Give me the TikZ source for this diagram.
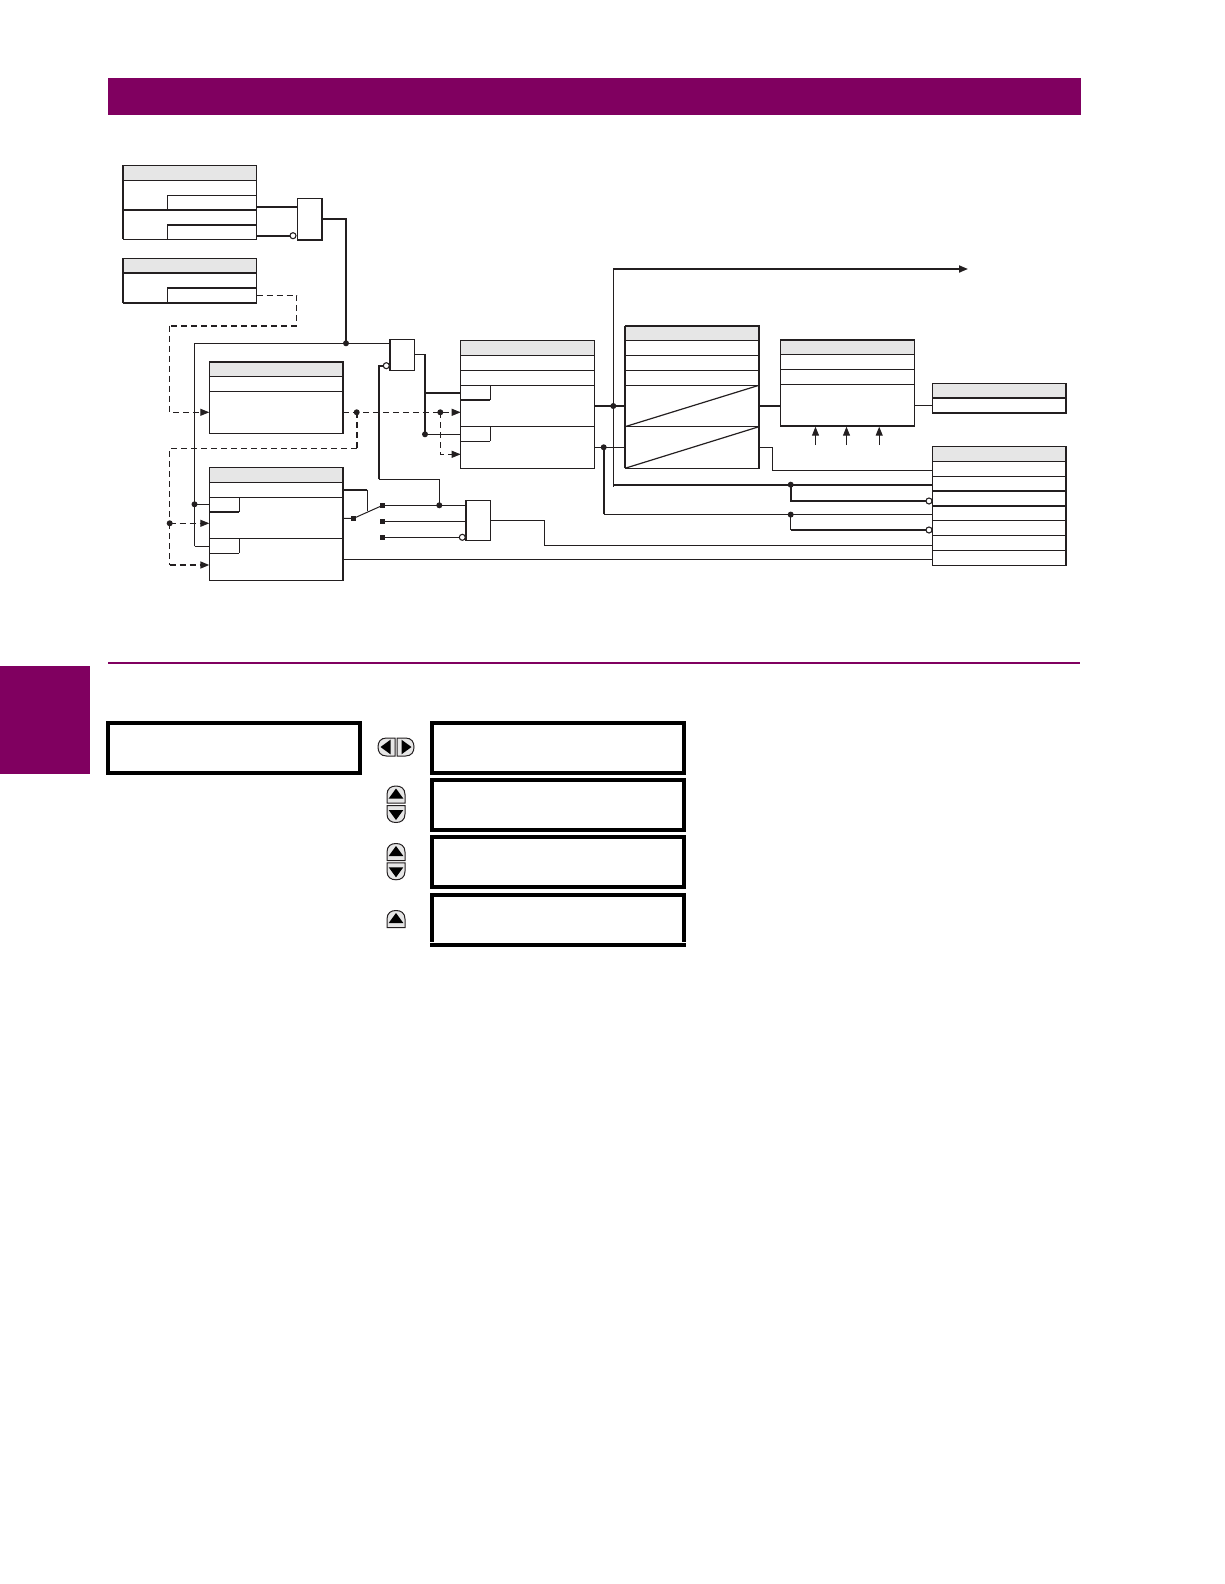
\documentclass[tikz,border=0pt]{standalone}
\usetikzlibrary{arrows.meta}
\definecolor{maroon}{HTML}{800060}
\definecolor{hdrgray}{HTML}{E6E6E6}
\definecolor{ink}{HTML}{231F20}
\tikzset{
  x=1pt,y=-1pt,
  thin line/.style={line width=1pt,draw=ink},
  thick line/.style={line width=1.8pt,draw=ink},
  thin dash/.style={thin line,dash pattern=on 6pt off 4pt},
  thick dash/.style={thick line,line width=1.6pt,dash pattern=on 6pt off 4pt},
  tip/.style={-{Triangle[length=9pt,width=7pt]}},
  boxn/.style={draw=ink,line width=1pt,inner sep=0pt,outer sep=0pt,rectangle},
  gate/.style={boxn,fill=white},
  dot/.style={circle,fill=ink,inner sep=0pt,minimum size=6pt,outer sep=0pt},
  sq/.style={rectangle,fill=ink,inner sep=0pt,minimum size=5pt,outer sep=0pt},
  inv/.style={circle,draw=ink,fill=white,line width=1.1pt,inner sep=0pt,minimum size=6pt,outer sep=0pt},
  lcd/.style={draw=black,line width=4pt,inner sep=0pt,outer sep=0pt,rectangle},
  btn/.style={fill=hdrgray,draw=ink,line width=1pt},
}
\newcommand\mkbox[5]{\node[boxn,minimum width={(#4-#2)*1pt},minimum height={(#5-#3)*1pt}] (#1) at ({(#2+#4)/2},{(#3+#5)/2}) {};}
\newcommand\mkgate[5]{\node[gate,minimum width={(#4-#2)*1pt},minimum height={(#5-#3)*1pt}] (#1) at ({(#2+#4)/2},{(#3+#5)/2}) {};}
\newcommand\mklcd[5]{\node[lcd,minimum width={(#4-#2)*1pt},minimum height={(#5-#3)*1pt}] (#1) at ({(#2+#4)/2},{(#3+#5)/2}) {};}
\newcommand\hdr[4]{\fill[hdrgray] (#1,#2) rectangle (#3,#4);}
\newcommand\rowline[4][thin line]{\draw[#1] (#2,#4) -- (#3,#4);}
\newcommand\button[3]{\begin{scope}[shift={(#1,#2)},rotate=#3]
  \draw[btn] (-9,8.5) -- (-9,0) .. controls (-9,-6) and (-5,-8.5) .. (0,-8.5) .. controls (5,-8.5) and (9,-6) .. (9,0) -- (9,8.5) -- cycle;
  \fill[black] (0,-6) -- (7.3,4) -- (-7.3,4) -- cycle;
\end{scope}}
\begin{document}
\begin{tikzpicture}
\useasboundingbox (0,0) rectangle (1224,1584);
% page furniture
\fill[maroon] (108,78) rectangle (1081,114.8);
\fill[maroon] (0,666) rectangle (90,774);
\draw[maroon,line width=1.6pt] (108,662.8) -- (1080,662.8);

% box A
\hdr{123}{165.3}{256.7}{180.3}
\mkbox{boxA}{123}{165.3}{256.7}{239.3}
\rowline{123}{256.7}{180.3}
\rowline[thick line]{123}{256.7}{210}
\rowline{167.3}{256.7}{195}
\rowline[thick line]{167.3}{256.7}{225}
\draw[thin line] (167.3,195) -- (167.3,210) (167.3,225) -- (167.3,239.3);
\draw[thick line] (123,165.3) -- (123,239.3);
% box B
\hdr{123}{258.3}{256.7}{273}
\mkbox{boxB}{123}{258.3}{256.7}{302.7}
\rowline[thick line]{123}{256.7}{273}
\rowline[thick line]{167.3}{256.7}{287.7}
\rowline[thick line]{123}{256.7}{302.7}
\draw[thin line] (167.3,287.7) -- (167.3,302.7);
\draw[thick line] (123,258.3) -- (123,302.7);
% box C
\hdr{209.3}{361.7}{343.3}{376.7}
\mkbox{boxC}{209.3}{361.7}{343.3}{433.3}
\rowline[thick line]{209.3}{343.3}{361.7}
\rowline{209.3}{343.3}{376.7}
\rowline{209.3}{343.3}{391.3}
\draw[thick line] (343.3,361.7) -- (343.3,433.3);
% box D
\hdr{209.3}{467.3}{343.3}{482.3}
\mkbox{boxD}{209.3}{467.3}{343.3}{580.3}
\rowline{209.3}{343.3}{482.3}
\rowline{209.3}{343.3}{497.3}
\rowline{209.3}{343.3}{538.3}
\rowline[thick line]{209.3}{239.3}{512}
\rowline{209.3}{239.3}{553.3}
\draw[thin line] (239.3,497.3) -- (239.3,512) (239.3,538.3) -- (239.3,553.3);
\draw[thick line] (343.3,467.3) -- (343.3,580.3);
% box E
\hdr{460.7}{340.7}{594.4}{355.3}
\mkbox{boxE}{460.7}{340.7}{594.4}{468.3}
\rowline{460.7}{594.4}{355.3}
\rowline{460.7}{594.4}{370.3}
\rowline{460.7}{594.4}{385.3}
\rowline{460.7}{594.4}{426.3}
\rowline[thick line]{460.7}{490.3}{400}
\rowline{460.7}{490.3}{441.3}
\draw[thin line] (490.3,385.3) -- (490.3,400) (490.3,426.3) -- (490.3,441.3);
\draw[thick line] (594.4,340.7) -- (594.4,468.3);
% box F
\hdr{625}{325.7}{759}{340.7}
\mkbox{boxF}{625}{325.7}{759}{468.3}
\rowline[thick line]{625}{759}{325.7}
\rowline{625}{759}{340.7}
\rowline{625}{759}{355.3}
\rowline{625}{759}{370.3}
\rowline{625}{759}{385.3}
\rowline[line width=1.4pt,draw=ink]{625}{759}{426.7}
\draw[line width=1.2pt,draw=ink] (625,426.7) -- (759,385.3) (625,468.3) -- (759,426.7);
\draw[line width=1.4pt,draw=ink] (625,325.7) -- (625,468.3) (759,325.7) -- (759,468.3);
% box G
\hdr{780.4}{339.7}{914.3}{354.3}
\mkbox{boxG}{780.4}{339.7}{914.3}{426}
\rowline[thick line]{780.4}{914.3}{339.7}
\rowline{780.4}{914.3}{354.3}
\rowline{780.4}{914.3}{369.3}
\rowline{780.4}{914.3}{384.3}
\rowline[thick line]{780.4}{914.3}{426}
% box H
\hdr{932.2}{383.3}{1066.2}{397.7}
\mkbox{boxH}{932.2}{383.3}{1066.2}{413.3}
\rowline[thick line]{932.2}{1066.2}{397.7}
\rowline[thick line]{932.2}{1066.2}{413.3}
\draw[thick line] (1066.2,383.3) -- (1066.2,413.3);
% box I
\hdr{932.2}{446.3}{1066.2}{461.3}
\mkbox{boxI}{932.2}{446.3}{1066.2}{565.3}
\rowline{932.2}{1066.2}{461.3}
\rowline{932.2}{1066.2}{476.3}
\rowline[thick line]{932.2}{1066.2}{491}
\rowline[thick line]{932.2}{1066.2}{506}
\rowline{932.2}{1066.2}{520.7}
\rowline{932.2}{1066.2}{535.3}
\rowline{932.2}{1066.2}{550.3}
\draw[thick line] (1066.2,446.3) -- (1066.2,565.3);

% junctions and ports
\coordinate (aOutA) at (boxA.east |- 0,206.7);
\coordinate (aOutB) at (boxA.east |- 0,235.7);
\node[dot] (jTop) at (346,343.3) {};
\coordinate (cornerTL) at (194.5,343.3);
\node[dot] (jLeft) at (194.5,504.3) {};
\coordinate (leftEnd) at (194.5,546.3);
\node[dot] (jDashA) at (356.7,412.3) {};
\node[dot] (jDashB) at (440.3,412.3) {};
\node[dot] (jDashL) at (169.7,523.3) {};
\node[dot] (jEn) at (425,434.3) {};
\node[dot] (jSw) at (439.3,505.3) {};
\node[dot] (jMainA) at (613.3,406) {};
\node[dot] (jMainB) at (603.7,447.3) {};
\node[dot] (jI1) at (790.7,484.7) {};
\node[dot] (jI2) at (790.7,514.6) {};
\node[sq] (swC) at (353.7,518.3) {};
\node[sq] (sw1) at (382.7,505.3) {};
\node[sq] (sw2) at (382.7,521.3) {};
\node[sq] (sw3) at (382.7,537.3) {};
\coordinate (arrowEnd) at (968,269);
\coordinate (arrowStart) at (613.3,269);
\coordinate (mainEnd) at (613.3,486.7);
\coordinate (up1) at (815.5,445);
\coordinate (up2) at (846.5,445);
\coordinate (up3) at (879.2,445);

% connectors
\draw[thick line] (aOutA) -- (297.3,206.7);
\draw[thick line] (aOutB) -- (290,235.7);
\draw[thick line] (322,218.7) -- (346,218.7) -- (jTop.center);
\draw[thin line] (leftEnd) -- (jLeft.center) -- (cornerTL) -- (jTop.center) -- (389.7,343.3);
\draw[thin line] (leftEnd) -- (209.3,546.3);
\draw[thin line] (jLeft.center) -- (209.3,504.3);
% dashed
\draw[thin dash] (boxB.east |- 0,295.3) -- (296.7,295.3) -- (296.7,325.7);
\draw[thick dash] (296.7,325.7) -- (169.7,325.7);
\draw[thin dash,tip] (169.7,325.7) -- (169.7,412.3) -- (boxC.west |- 0,412.3);
\draw[thin dash,tip] (boxC.east |- 0,412.3) -- (jDashA.center) -- (jDashB.center) -- (boxE.west |- 0,412.3);
\draw[thick dash] (jDashA.center) -- (356.7,448.3);
\draw[thin dash] (356.7,448.3) -- (169.7,448.3) -- (jDashL.center);
\draw[thin dash,tip] (jDashL.center) -- (boxD.west |- 0,523.3);
\draw[thin dash] (jDashL.center) -- (169.7,565);
\draw[thick dash,tip] (169.7,565) -- (boxD.west |- 0,565);
\draw[thin dash,tip] (jDashB.center) -- (440.3,454.3) -- (boxE.west |- 0,454.3);
% second gate
\draw[thin line] (414.7,354) -- (425,354);
\draw[thick line] (425,354) -- (jEn.center);
\draw[thick line] (425,393) -- (boxE.west |- 0,393);
\draw[thin line] (jEn.center) -- (boxE.west |- 0,434.3);
\draw[thick line] (383.5,365.7) -- (378.7,365.7) -- (378.7,479.3);
\draw[thin line] (378.7,479.3) -- (439.3,479.3) -- (jSw.center);
% switch
\draw[thick line] (boxD.east |- 0,489.7) -- (367.3,489.7);
\draw[thin line] (367.3,489.7) -- (367.3,510.7);
\draw[thin line] (boxD.east |- 0,518.3) -- (swC.center) -- (sw1.center);
\draw[thin line] (sw1.center) -- (465.7,505.3);
\draw[thin line] (sw2.center) -- (465.7,521.3);
\draw[thin line] (sw3.center) -- (459.3,537.3);
% third gate to box I
\draw[thin line] (490.3,520.3) -- (544.7,520.3) -- (544.7,545.3) -- (boxI.west |- 0,545.3);
\draw[thin line] (boxD.east |- 0,559.3) -- (boxI.west |- 0,559.3);
% main busses
\draw[thick line] (boxE.east |- 0,406) -- (boxF.west |- 0,406);
\draw[thin line] (boxE.east |- 0,447.3) -- (boxF.west |- 0,447.3);
\draw[thick line,tip] (arrowStart) -- (arrowEnd);
\draw[thin line] (arrowStart) -- (mainEnd);
\draw[thick line] (mainEnd |- 0,484.7) -- (boxI.west |- 0,484.7);
\draw[thick line] (jI1.center) -- (790.7,501) -- (926,501);
\draw[thick line] (jMainB.center) -- (603.7,514.3);
\draw[thin line] (603.7,514.3) -- (boxI.west |- 0,514.3);
\draw[thin line] (jI2.center) -- (790.7,530);
\draw[thick line] (790.7,530) -- (926,530);
\draw[thick line] (boxF.east |- 0,406) -- (boxG.west |- 0,406);
\draw[thin line] (boxG.east |- 0,405.3) -- (boxH.west |- 0,405.3);
\draw[thin line] (boxF.east |- 0,447.3) -- (772.4,447.3) -- (772.4,470.3) -- (boxI.west |- 0,470.3);
\draw[thin line,tip] (up1) -- (815.5,426.7);
\draw[thin line,tip] (up2) -- (846.5,426.7);
\draw[thin line,tip] (up3) -- (879.2,426.7);

% gates (on top of wires)
\mkgate{gateA}{297.3}{198.3}{322}{240}
\draw[thick line] (322,198.3) -- (322,240) -- (297.3,240);
\mkgate{gateB}{389.7}{339.3}{414.7}{370.3}
\draw[thick line] (389.7,339.3) -- (389.7,370.3);
\mkgate{gateC}{465.7}{500.3}{490.3}{540.3}
\draw[thick line] (465.7,500.3) -- (465.7,540.3);
\node[inv] (invA) at (293,235.7) {};
\node[inv] (invB) at (386.3,365.7) {};
\node[inv] (invC) at (462.3,537.3) {};
\node[inv] (invD) at (929,501) {};
\node[inv] (invE) at (929,530) {};

% settings displays
\mklcd{lcdMain}{107.8}{722.9}{360}{773.1}
\mklcd{lcdA}{431.9}{722.9}{684.1}{773.1}
\mklcd{lcdB}{431.9}{779.9}{684.1}{830.1}
\mklcd{lcdC}{431.9}{836.9}{684.1}{887.1}
\draw[black,line width=4pt] (431.9,941.7) -- (431.9,894.9) -- (684.1,894.9) -- (684.1,941.7);
\draw[black,line width=3.7pt] (430,944.9) -- (686,944.9);
% keypad buttons
\button{386.5}{747}{90}
\button{405.5}{747}{-90}
\button{396}{794.5}{0}
\button{396}{814}{180}
\button{396}{852}{0}
\button{396}{871.3}{180}
\button{396}{919}{0}
\end{tikzpicture}
\end{document}
